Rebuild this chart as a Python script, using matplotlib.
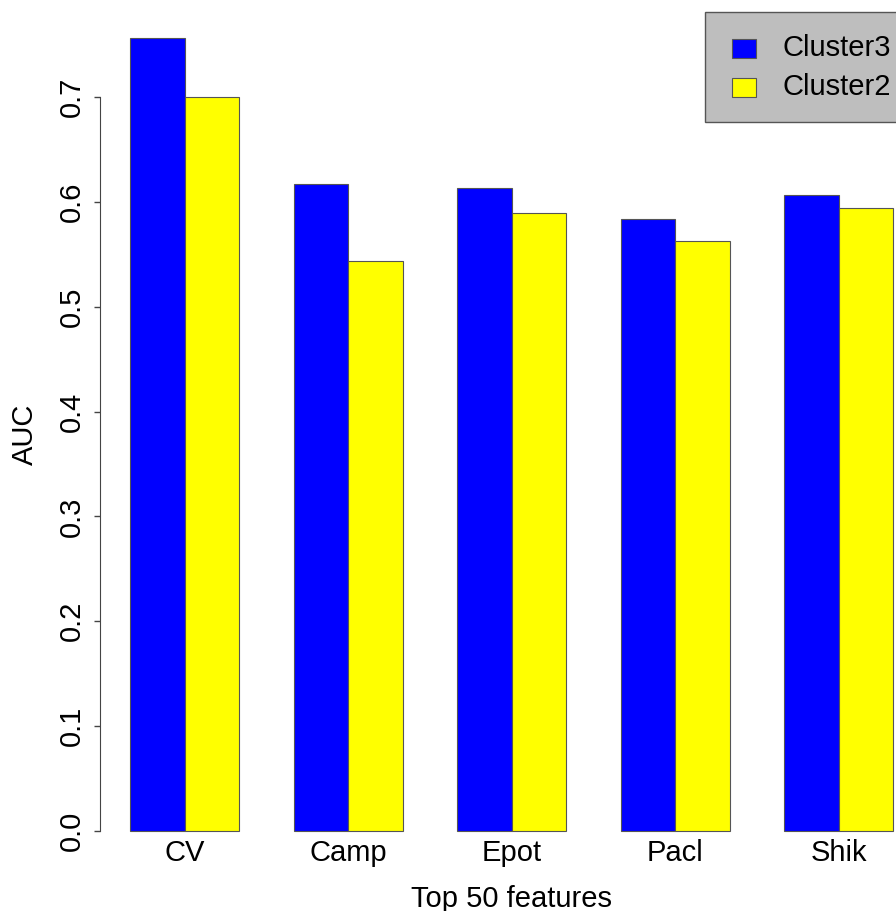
import matplotlib
matplotlib.use("Agg")
import matplotlib.pyplot as plt
from matplotlib.patches import Rectangle
import numpy as np

categories = ["CV", "Camp", "Epot", "Pacl", "Shik"]
series_names = ["Cluster3", "Cluster2"]
cluster3 = [0.756, 0.617, 0.613, 0.584, 0.607]
cluster2 = [0.700, 0.544, 0.589, 0.563, 0.594]
colors = ["#0000FF", "#FFFF00"]
yticks = [0.0, 0.1, 0.2, 0.3, 0.4, 0.5, 0.6, 0.7]

plt.rcParams['font.family'] = ['Liberation Sans', 'DejaVu Sans']

W, H = 896, 911
fig = plt.figure(figsize=(W / 100, H / 100), dpi=100)
left_px, right_px = 99.5, 896
bot_px, top_px = 862.7, 6.2
ax = fig.add_axes([left_px / W, (H - bot_px) / H, (right_px - left_px) / W, (bot_px - top_px) / H])

n = len(categories)
group_left = 1 + 3 * np.arange(n)
ax.bar(group_left, cluster3, width=1, align='edge', color=colors[0], edgecolor='#555555', linewidth=0.8)
ax.bar(group_left + 1, cluster2, width=1, align='edge', color=colors[1], edgecolor='#555555', linewidth=0.8)

ax.set_xlim(0.44, 1 + (right_px - 130) / 54.5)
ax.set_ylim(-0.03025, 0.7866)
for s in ['top', 'right', 'bottom']:
    ax.spines[s].set_visible(False)
ax.spines['left'].set_bounds(0, 0.7)
ax.spines['left'].set_color('#444444')
ax.set_yticks(yticks)
ax.set_yticklabels([f"{v:.1f}" for v in yticks], rotation=90, va='center', fontsize=21)
ax.tick_params(axis='y', length=4, width=1, color='#444444', pad=6)
ax.set_xticks(group_left + 1)
ax.set_xticklabels(categories, fontsize=21)
ax.tick_params(axis='x', length=0, pad=-17)

def fx(px):
    return px / W
def fy(py):
    return (H - py) / H

fig.text(fx(25), fy(434), "AUC", fontsize=21, rotation=90, ha='center', va='center')
fig.text(fx(511), fy(907), "Top 50 features", fontsize=21, ha='center', va='baseline')

# legend (top right, cut by figure edge)
fig.patches.append(Rectangle((fx(705), fy(122)), fx(260), (122 - 12) / H, transform=fig.transFigure,
                             facecolor='#BEBEBE', edgecolor='#555555', linewidth=1))
for i, (name, c) in enumerate(zip(series_names, colors)):
    yc = 48 + 39 * i
    fig.patches.append(Rectangle((fx(732), fy(yc + 9.5)), fx(24), 19 / H, transform=fig.transFigure,
                                 facecolor=c, edgecolor='#555555', linewidth=0.8))
    fig.text(fx(782), fy(yc), name, fontsize=21, va='center', ha='left')

fig.savefig("out.png", dpi=100)
